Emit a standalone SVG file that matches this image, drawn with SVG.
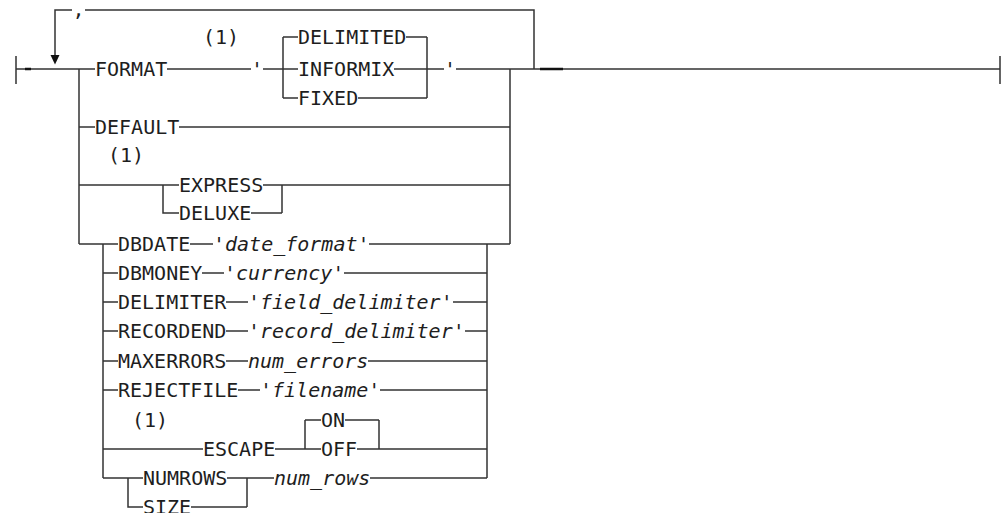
<svg xmlns="http://www.w3.org/2000/svg" width="1003" height="513" viewBox="0 0 1003 513">
<style>
text{font-family:"DejaVu Sans Mono","Liberation Mono",monospace;font-size:20px;fill:#1e1e1e}
.v{font-style:italic}
.ln{fill:none;stroke:#333;stroke-width:1.5}
.bold{fill:none;stroke:#111;stroke-width:2.6}
</style>
<rect width="1003" height="513" fill="#fff"/>
<g id="connectors">
<path class="ln" d="M16 56V84M1000 56V84M16 69H95M167 69H251M263 69H298M283 37V98M283 37H298M283 98H298M406 37H427M394 69H427M358 98H427M427 37V98M427 69H444M456 69H1000"/>
<path class="bold" d="M25 69H31M540 69H563"/>
<path class="ln" d="M534 69V10H85M72 10H55V55"/>
<polygon points="50.5,55 59.5,55 55,64.5" fill="#111"/>
<path class="ln" d="M79 69V244M510 69V244"/>
<path class="ln" d="M79 127H95M179 127H510"/>
<path class="ln" d="M79 185H179M163 185V213H179M263 185H282M251 213H282M282 185V213M282 185H510"/>
<path class="ln" d="M79 244H118M190 244H213M369 244H510M103 244V478M487 244V478"/>
<path class="ln" d="M103 273H118M202 273H224M344 273H487"/>
<path class="ln" d="M103 302H118M226 302H248M453 302H487"/>
<path class="ln" d="M103 331H118M226 331H248M465 331H487"/>
<path class="ln" d="M103 361H118M226 361H248M368 361H487"/>
<path class="ln" d="M103 390H118M238 390H260M380 390H487"/>
<path class="ln" d="M103 449H203M275 449H321M305 420V449M305 420H321M345 420H379M357 449H379M379 420V449M379 449H487"/>
<path class="ln" d="M103 478H143M128 478V507H143M227 478H247M191 507H247M247 478V507M247 478H274M370 478H487"/>
</g>
<g id="comma"><text x="78.5" y="16" text-anchor="middle">,</text></g>
<g id="note1a"><text x="203" y="43.5">(1)</text></g>
<g id="format"><text x="95" y="76.3">FORMAT</text></g>
<g id="quote1"><text x="251" y="76.3">'</text></g>
<g id="delimited"><text x="298" y="44.3">DELIMITED</text></g>
<g id="informix"><text x="298" y="76.3">INFORMIX</text></g>
<g id="fixed"><text x="298" y="105.3">FIXED</text></g>
<g id="quote2"><text x="444" y="76.3">'</text></g>
<g id="default"><text x="95" y="134.3">DEFAULT</text></g>
<g id="note1b"><text x="108" y="162">(1)</text></g>
<g id="express"><text x="179" y="192.3">EXPRESS</text></g>
<g id="deluxe"><text x="179" y="220.3">DELUXE</text></g>
<g id="dbdate"><text x="118" y="251.3">DBDATE</text><text class="v" x="213" y="251.3">'date_format'</text></g>
<g id="dbmoney"><text x="118" y="280.3">DBMONEY</text><text class="v" x="224" y="280.3">'currency'</text></g>
<g id="delimiter"><text x="118" y="309.3">DELIMITER</text><text class="v" x="248" y="309.3">'field_delimiter'</text></g>
<g id="recordend"><text x="118" y="338.3">RECORDEND</text><text class="v" x="248" y="338.3">'record_delimiter'</text></g>
<g id="maxerrors"><text x="118" y="368.3">MAXERRORS</text><text class="v" x="248" y="368.3">num_errors</text></g>
<g id="rejectfile"><text x="118" y="397.3">REJECTFILE</text><text class="v" x="260" y="397.3">'filename'</text></g>
<g id="note1c"><text x="132" y="427">(1)</text></g>
<g id="escape"><text x="203" y="456.3">ESCAPE</text></g>
<g id="on"><text x="321" y="427.3">ON</text></g>
<g id="off"><text x="321" y="456.3">OFF</text></g>
<g id="numrows"><text x="143" y="485.3">NUMROWS</text></g>
<g id="size"><text x="143" y="514.3">SIZE</text></g>
<g id="numrowsvar"><text class="v" x="274" y="485.3">num_rows</text></g>
</svg>
